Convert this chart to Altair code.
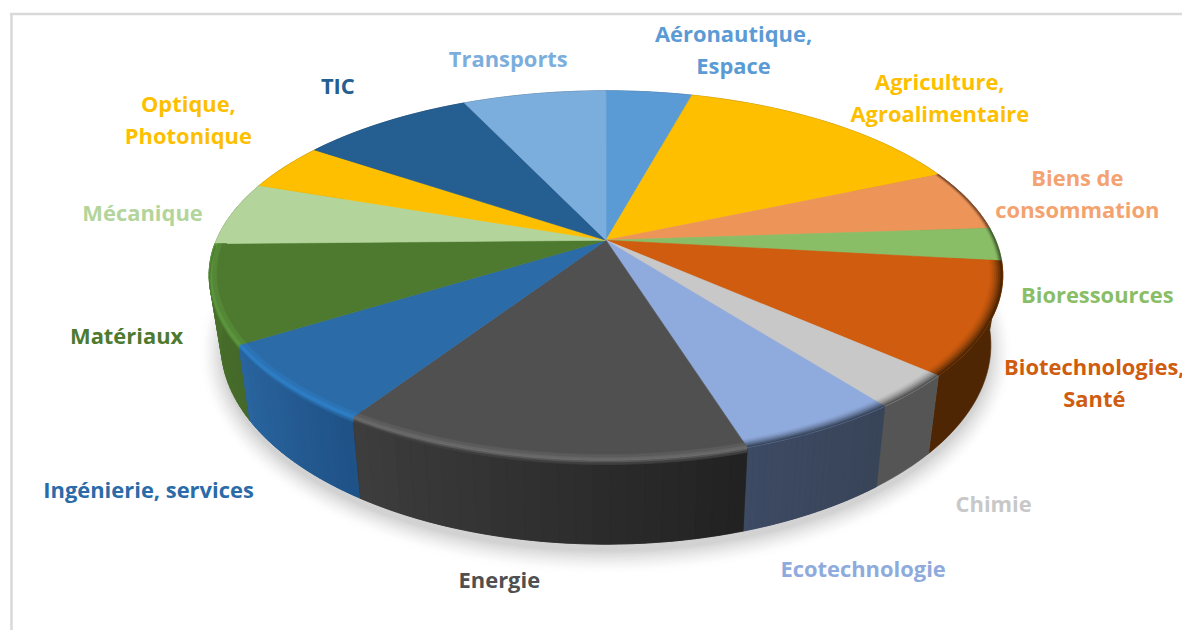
import math
import altair as alt

# ---- chart values (share of each sector, %) ----
SECTORS = ["Aéronautique, Espace", "Agriculture, Agroalimentaire", "Biens de consommation",
           "Bioressources", "Biotechnologies, Santé", "Chimie", "Ecotechnologie", "Energie",
           "Ingénierie, services", "Matériaux", "Mécanique", "Optique, Photonique", "TIC", "Transports"]
SHARES = [4.2, 14.3, 5.4, 2.9, 9.8, 3.0, 5.6, 14.0, 6.9, 8.6, 5.6, 4.2, 8.5, 7.0]
LABELS = ["Aéronautique,\nEspace", "Agriculture,\nAgroalimentaire", "Biens de\nconsommation",
          "Bioressources", "Biotechnologies,\nSanté", "Chimie", "Ecotechnologie", "Energie",
          "Ingénierie, services", "Matériaux", "Mécanique", "Optique,\nPhotonique", "TIC", "Transports"]

# ---- styles ----
TOP = ["#5B9BD5", "#FDBF00", "#ED9559", "#8ABE66", "#CF5C0F", "#C8C8C8", "#8FAADC", "#505050",
       "#2A6BA8", "#4E7A2F", "#B3D59B", "#FDBF00", "#255E91", "#7CAEDD"]
TEXT = ["#5B9BD5", "#FDBF00", "#F4A26F", "#8ABE66", "#CF5C0F", "#C8C8C8", "#8FAADC", "#505050",
        "#2A6BA8", "#4E7A2F", "#B3D59B", "#FDBF00", "#255E91", "#7CAEDD"]
WALL_LEFT = ["#30597f", "#806000", "#77482c", "#456033", "#4f2603", "#555555", "#3d4a63", "#3d3d3d",
             "#2a659f", "#4b732b", "#5a6b4e", "#806000", "#13304a", "#3e576f"]
WALL_RIGHT = ["#30597f", "#806000", "#77482c", "#456033", "#4f2603", "#555555", "#384458", "#222222",
              "#1f5287", "#44692a", "#5a6b4e", "#806000", "#13304a", "#3e576f"]
RIM = ["none", "none", "dark", "dark", "dark", "dark", "dark", "light",
       "light", "light", "none", "none", "none", "none"]
HIGHLIGHT = {7: "#6c6c6c", 8: "#2f80c8", 9: "#5d9a40"}

# ---- layout ----
LABEL_X = [734, 941, 1079, 1099, 1096, 995, 864, 499, 147, 125, 141, 187, 337, 508]
LABEL_Y = [34, 82, 179, 296, 368, 506, 571, 582, 492, 337, 214, 104, 86, 59]
APEX_X, APEX_Y = 606, 240
K, B, C = 0.189, -133, 391


def top_pt(angle, r=1.0):
    u, v = r * math.sin(angle), r * math.cos(angle)
    d = 1 + K * v
    return APEX_X + C * u / d, (APEX_Y + B * v) / d


def low_pt(angle):
    x, y = top_pt(angle)
    return 606 + (x - 606) * 0.97, 345 + (y - 275) * 200 / 185


def at(angle, s):
    """s<0: inward on the top face; s>=0: down the wall."""
    if s < 0:
        return top_pt(angle, 1 + s)
    a, b = top_pt(angle), low_pt(angle)
    return a[0] + (b[0] - a[0]) * s, a[1] + (b[1] - a[1]) * s


def mix(c1, c2, f):
    p = [int(c1[i:i + 2], 16) for i in (1, 3, 5)]
    q = [int(c2[i:i + 2], 16) for i in (1, 3, 5)]
    return "#%02x%02x%02x" % tuple(round(a + (b - a) * f) for a, b in zip(p, q))


def feat(points, fill):
    ring = [[round(x, 2), round(y, 2)] for x, y in points]
    ring.append(ring[0])
    return {"type": "Feature", "geometry": {"type": "Polygon", "coordinates": [ring]},
            "properties": {"fill": fill}}


def steps(a0, a1, n):
    return [a0 + (a1 - a0) * i / n for i in range(n + 1)]


def band(a0, a1, s0, s1, fill):
    ang = steps(a0, a1, max(2, int((a1 - a0) / 0.03)))
    return feat([at(a, s0) for a in ang] + [at(a, s1) for a in reversed(ang)], fill)


edges = [0.0]
for v in SHARES:
    edges.append(edges[-1] + v)
total = edges[-1]
edges = [e / total * 2 * math.pi for e in edges]

features = []

# soft ground shadow, outermost first
SHADOW_STEPS = 14
for i in range(SHADOW_STEPS):
    f = i / (SHADOW_STEPS - 1)
    grow = 24 * (1 - f)
    ang = steps(0, 2 * math.pi, 120)
    pts = [(606 + (385 + grow) * math.sin(a), 352 + (200 + grow) * math.cos(a)) for a in ang[:-1]]
    features.append(feat(pts, mix("#ffffff", "#d2d2d2", f ** 1.6)))

# side wall, back slices first; angles run clockwise, so on the front the
# start of a slice is its right-hand side
order = sorted(range(len(SHARES)),
               key=lambda i: math.cos((edges[i] + edges[i + 1]) / 2), reverse=True)
for i in order:
    a0, a1 = edges[i], edges[i + 1]
    features.append(band(a0, a1, 0, 1, mix(WALL_LEFT[i], WALL_RIGHT[i], 0.5)))
    if WALL_LEFT[i] != WALL_RIGHT[i]:
        n = 24
        cuts = steps(a0, a1, n)
        for j in range(n):
            col = mix(WALL_RIGHT[i], WALL_LEFT[i], j / (n - 1))
            features.append(band(cuts[j], cuts[j + 1], 0, 1, col))

# top face
for i in range(len(SHARES)):
    ang = steps(edges[i], edges[i + 1], max(2, int((edges[i + 1] - edges[i]) / 0.02)))
    features.append(feat([(APEX_X, APEX_Y)] + [top_pt(a) for a in ang], TOP[i]))

# bevel along the rim
for i in range(len(SHARES)):
    a0, a1 = edges[i], edges[i + 1]
    wall = mix(WALL_LEFT[i], WALL_RIGHT[i], 0.5)
    if RIM[i] == "light":
        hi = HIGHLIGHT[i]
        stops = [(-0.03, TOP[i]), (-0.018, mix(TOP[i], hi, 0.4)), (-0.007, mix(TOP[i], hi, 0.8)),
                 (0.0, hi), (0.02, mix(hi, wall, 0.35)), (0.04, mix(hi, wall, 0.75)),
                 (0.06, wall)]
        for (s0, c0), (s1, _) in zip(stops, stops[1:]):
            features.append(band(a0, a1, s0, s1, c0))
    elif RIM[i] == "dark":
        width = 0.012 if i in (2, 3) else 0.03
        for k in range(6):
            s0 = -width + k * width / 6
            features.append(band(a0, a1, s0, s0 + width / 6, mix(TOP[i], wall, ((k + 1) / 6) ** 1.5)))

proj = dict(type="identity", scale=1, translate=[-8, -8])

pie = alt.Chart(alt.Data(values=features)).mark_geoshape(strokeWidth=0.6).encode(
    fill=alt.Fill("properties.fill:N", scale=None, legend=None),
    stroke=alt.Stroke("properties.fill:N", scale=None, legend=None),
).project(**proj)

label_rows = [{"sector": s, "label": l, "x": x, "y": y, "color": c}
              for s, l, x, y, c in zip(SECTORS, LABELS, LABEL_X, LABEL_Y, TEXT)]
labels = alt.Chart(alt.Data(values=label_rows)).mark_text(
    font="Open Sans", fontWeight="bold", fontSize=22, lineBreak="\n", lineHeight=32,
    align="center", baseline="middle",
).encode(
    longitude="x:Q", latitude="y:Q", text="label:N",
    color=alt.Color("color:N", scale=None, legend=None),
).project(**proj)

frame_left = alt.Chart().mark_rule(color="#d9d9d9", strokeWidth=2.5).encode(
    x=alt.value(1.5), y=alt.value(4), y2=alt.value(623))
frame_top = alt.Chart().mark_rule(color="#d9d9d9", strokeWidth=2.5).encode(
    x=alt.value(0), x2=alt.value(1176), y=alt.value(5))

chart = alt.layer(frame_left, frame_top, pie, labels).properties(
    width=1176, height=623, padding=0, background="white",
).configure_view(stroke=None)

chart.save("out.html", embed_options={"renderer": "svg", "actions": False})
